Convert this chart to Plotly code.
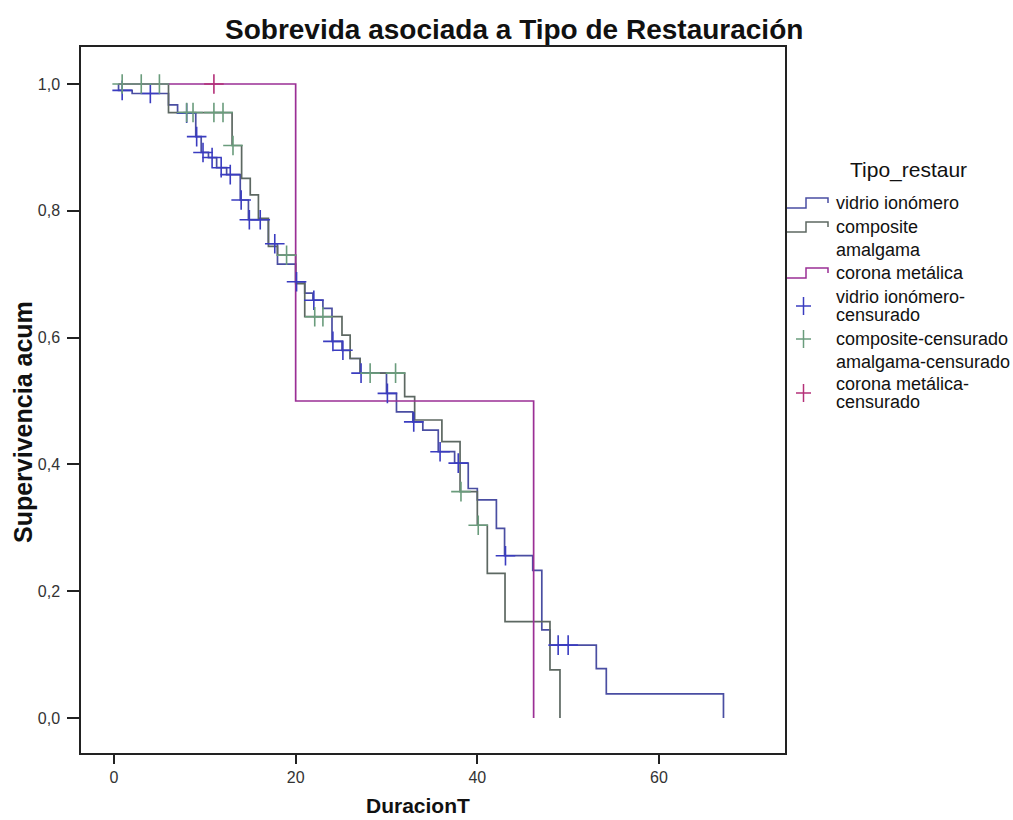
import plotly.graph_objects as go

# Kaplan-Meier estimates: event times and cumulative survival after each event
START = 0.5

vidrio_t = [0.5, 2.0, 6.0, 7.0, 9.0, 9.6, 10.4, 11.3, 12.4, 13.9, 14.8, 17.0, 18.0,
            20.0, 21.0, 21.9, 23.0, 24.0, 25.1, 26.0, 27.1, 30.0, 31.1, 32.9, 34.0,
            35.7, 37.5, 39.0, 40.0, 42.1, 43.0, 46.1, 47.1, 48.0, 53.1, 54.2, 67.1]
vidrio_s = [0.990, 0.985, 0.967, 0.954, 0.917, 0.892, 0.884, 0.868, 0.857, 0.817, 0.786,
            0.748, 0.716, 0.688, 0.670, 0.659, 0.646, 0.594, 0.580, 0.567, 0.544, 0.512,
            0.483, 0.467, 0.454, 0.420, 0.402, 0.362, 0.344, 0.299, 0.256, 0.233, 0.139,
            0.115, 0.078, 0.038, 0.0]
vidrio_cens = [0.9, 4.0, 8.0, 9.1, 9.8, 10.8, 11.8, 12.8, 14.0, 14.9, 16.1, 17.7, 20.1,
               22.0, 24.1, 25.2, 27.2, 30.1, 33.0, 35.9, 37.9, 43.1, 48.9, 50.0]

composite_t = [6.0, 13.0, 14.05, 15.0, 15.9, 17.0, 18.0, 20.0, 21.0, 25.1, 26.0, 27.1,
               32.0, 33.1, 36.1, 38.1, 40.0, 41.1, 43.05, 48.0, 49.1]
composite_s = [0.955, 0.903, 0.851, 0.825, 0.788, 0.744, 0.730, 0.685, 0.633, 0.604,
               0.567, 0.544, 0.507, 0.470, 0.436, 0.357, 0.304, 0.228, 0.152, 0.076, 0.0]
composite_cens = [0.9, 3.0, 5.0, 8.0, 8.7, 11.0, 12.0, 13.1, 19.0, 22.1, 23.0, 28.2,
                  31.0, 38.2, 40.1]

corona_t = [20.0, 46.2]
corona_s = [0.5, 0.0]
corona_cens = [11.0]

x_ticks = [0, 20, 40, 60]
x_ticklabels = ["0", "20", "40", "60"]
y_ticks = [0.0, 0.2, 0.4, 0.6, 0.8, 1.0]
y_ticklabels = ["0,0", "0,2", "0,4", "0,6", "0,8", "1,0"]

legend_title = "Tipo_restaur"
# each legend entry as (lines of text)
legend_items = [["vidrio ionómero"], ["composite"], ["amalgama"], ["corona metálica"],
                ["vidrio ionómero-", "censurado"], ["composite-censurado"],
                ["amalgama-censurado"], ["corona metálica-", "censurado"]]

FONT = "Liberation Sans, Arial, sans-serif"
W, H = 1013, 820
L, R, T, B = 81, 785, 47, 753

C_VIDRIO = "#4a4ea2"
C_VIDRIO_M = "#3a3cc0"
C_COMP = "#5d6862"
C_COMP_M = "#6a9c7c"
C_CORONA = "#9b2f95"
C_CORONA_M = "#b43078"


def surv_at(times, surv, t):
    s = 1.0
    for ti, si in zip(times, surv):
        if ti <= t:
            s = si
    return s


def px(xp):
    return (xp - L) / (R - L)


def py(yp):
    return (B - yp) / (B - T)


fig = go.Figure()

groups = [
    (vidrio_t, vidrio_s, vidrio_cens, C_VIDRIO, C_VIDRIO_M),
    (composite_t, composite_s, composite_cens, C_COMP, C_COMP_M),
    (corona_t, corona_s, corona_cens, C_CORONA, C_CORONA_M),
]

for times, surv, cens, lc, mc in groups:
    fig.add_trace(go.Scatter(
        x=[START] + times, y=[1.0] + surv, mode="lines",
        line=dict(color=lc, width=1.7, shape="hv"),
        showlegend=False, hoverinfo="skip"))
for times, surv, cens, lc, mc in groups:
    fig.add_trace(go.Scatter(
        x=cens, y=[surv_at(times, surv, c) for c in cens], mode="markers",
        marker=dict(symbol="cross-thin", size=14, line=dict(color=mc, width=1.6)),
        showlegend=False, hoverinfo="skip"))

axis_common = dict(showline=True, linecolor="#222", linewidth=1.5, mirror=True,
                   ticks="outside", tickwidth=1.5, tickcolor="#222",
                   showgrid=False, zeroline=False,
                   tickfont=dict(family=FONT, size=16, color="#333"))

fig.update_xaxes(range=[(L - 114) / 9.083, (R - 114) / 9.083],
                 tickvals=x_ticks, ticktext=x_ticklabels, ticklen=9, **axis_common)
fig.update_yaxes(range=[(718 - B) / 634, (718 - T) / 634],
                 tickvals=y_ticks, ticktext=y_ticklabels, ticklen=12,
                 ticklabelstandoff=4, **axis_common)

annotations = [
    dict(text="<b>Sobrevida asociada a Tipo de Restauración</b>", x=px(514), y=py(30),
         font=dict(family=FONT, size=28, color="#111")),
    dict(text="<b>DuracionT</b>", x=px(418), y=py(805),
         font=dict(family=FONT, size=21, color="#111")),
    dict(text="<b>Supervivencia acum</b>", x=px(23), y=py(422), textangle=-90,
         font=dict(family=FONT, size=25, color="#111")),
    dict(text=legend_title, x=px(909), y=py(170),
         font=dict(family=FONT, size=21, color="#111")),
]
for a in annotations:
    a.update(xref="paper", yref="paper", showarrow=False,
             xanchor="center", yanchor="middle")

item_y = [[203], [227], [250], [273], [297, 315], [339], [362], [384, 402]]
for lines, ys in zip(legend_items, item_y):
    for txt, yy in zip(lines, ys):
        annotations.append(dict(text=txt, x=px(834), y=py(yy), xref="paper", yref="paper",
                                showarrow=False, xanchor="left", yanchor="middle",
                                font=dict(family=FONT, size=18, color="#111")))

shapes = []
# step symbols for the survival functions
for yy, col in [(203, C_VIDRIO), (227, C_COMP), (273, C_CORONA)]:
    pts = [(787, yy + 5), (806, yy + 5), (806, yy - 5), (828, yy - 5), (828, yy)]
    path = "M " + " L ".join(f"{px(a)},{py(b)}" for a, b in pts)
    shapes.append(dict(type="path", path=path, xref="paper", yref="paper",
                       line=dict(color=col, width=1.5)))
# cross symbols for censored cases
for yy, col in [(306, C_VIDRIO_M), (339, C_COMP_M), (393, C_CORONA_M)]:
    shapes.append(dict(type="line", xref="paper", yref="paper", x0=px(796), x1=px(811),
                       y0=py(yy), y1=py(yy), line=dict(color=col, width=1.5)))
    shapes.append(dict(type="line", xref="paper", yref="paper", x0=px(803.5), x1=px(803.5),
                       y0=py(yy - 9), y1=py(yy + 9), line=dict(color=col, width=1.5)))

fig.update_layout(width=W, height=H, margin=dict(l=L, r=W - R, t=T, b=H - B),
                  plot_bgcolor="white", paper_bgcolor="white",
                  annotations=annotations, shapes=shapes, showlegend=False)

fig.write_html("out.html")
